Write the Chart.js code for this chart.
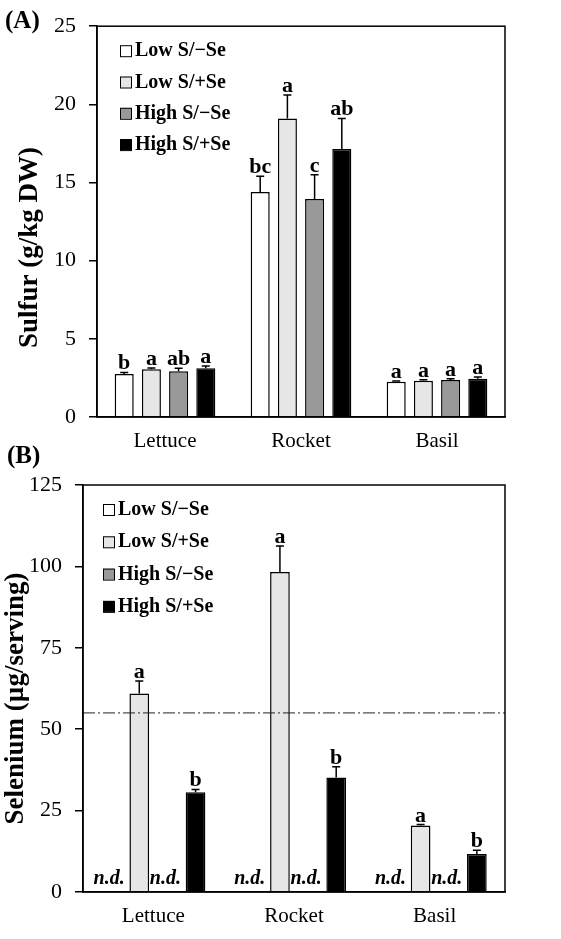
<!DOCTYPE html>
<html>
<head>
<meta charset="utf-8">
<script src="https://cdn.jsdelivr.net/npm/chart.js@4"></script>
<style>
  html, body { margin: 0; padding: 0; background: #fff; }
  body { width: 561px; height: 939px; position: relative; overflow: hidden; }
  .panel { position: absolute; left: 0; width: 561px; }
  #panelA { top: 0; height: 470px; }
  #panelB { top: 440px; height: 499px; }
</style>
</head>
<body>
<div class="panel" id="panelA"><canvas id="chartA"></canvas></div>
<div class="panel" id="panelB"><canvas id="chartB"></canvas></div>
<script>
const FONT = '"Liberation Serif", "Times New Roman", serif';

const categories = ['Lettuce', 'Rocket', 'Basil'];
const seriesNames = ['Low S/\u2212Se', 'Low S/+Se', 'High S/\u2212Se', 'High S/+Se'];
const seriesColors = ['#FFFFFF', '#E6E6E6', '#999999', '#000000'];

// (A) sulfur, g/kg DW
const sulfurLowMinus  = [2.75, 14.4, 2.25];
const sulfurLowPlus   = [3.05, 19.1, 2.32];
const sulfurHighMinus = [2.92, 13.95, 2.37];
const sulfurHighPlus  = [3.12, 17.15, 2.44];
const sulfurErrLowMinus  = [0.10, 1.0, 0.06];
const sulfurErrLowPlus   = [0.08, 1.5, 0.07];
const sulfurErrHighMinus = [0.20, 1.55, 0.07];
const sulfurErrHighPlus  = [0.15, 1.95, 0.12];
const sulfurLetLowMinus  = ['b', 'bc', 'a'];
const sulfurLetLowPlus   = ['a', 'a', 'a'];
const sulfurLetHighMinus = ['ab', 'c', 'a'];
const sulfurLetHighPlus  = ['a', 'ab', 'a'];
const sulfurTicks = [0, 5, 10, 15, 20, 25];

// (B) selenium, ug/serving (null = n.d.)
const seLowMinus  = [null, null, null];
const seLowPlus   = [61.0, 98.3, 20.4];
const seHighMinus = [null, null, null];
const seHighPlus  = [30.6, 35.2, 11.7];
const seErrLowPlus  = [3.8, 8.0, 0.3];
const seErrHighPlus = [0.9, 3.3, 1.1];
const seLetLowPlus  = ['a', 'a', 'a'];
const seLetHighPlus = ['b', 'b', 'b'];
const seTicks = [0, 25, 50, 75, 100, 125];
const seReference = 55;

// draws box, legend, error bars, letters, n.d., titles
const extrasPlugin = {
    id: 'extras',
    afterDatasetsDraw: function (chart, args, opts) {
        const ctx = chart.ctx;
        const area = chart.chartArea;
        const y = chart.scales.y;
        ctx.save();

        // reference line
        if (opts.refValue != null) {
            const ry = y.getPixelForValue(opts.refValue);
            ctx.strokeStyle = '#222';
            ctx.lineWidth = 1;
            ctx.setLineDash([12, 3, 2, 3]);
            ctx.beginPath();
            ctx.moveTo(area.left, ry);
            ctx.lineTo(area.right, ry);
            ctx.stroke();
            ctx.setLineDash([]);
        }

        // error bars + letters + n.d.
        chart.data.datasets.forEach((ds, di) => {
            const meta = chart.getDatasetMeta(di);
            meta.data.forEach((bar, i) => {
                const v = ds.data[i];
                if (v == null) {
                    ctx.fillStyle = '#000';
                    ctx.font = 'italic bold 20px ' + FONT;
                    ctx.textAlign = 'center';
                    ctx.textBaseline = 'alphabetic';
                    ctx.fillText('n.d.', bar.x - 2, y.getPixelForValue(0) - 8);
                    return;
                }
                const err = ds.errors ? ds.errors[i] : 0;
                const top = y.getPixelForValue(v + err);
                ctx.strokeStyle = '#000';
                ctx.lineWidth = 1.5;
                ctx.beginPath();
                ctx.moveTo(bar.x, bar.y);
                ctx.lineTo(bar.x, top);
                ctx.moveTo(bar.x - 4, top);
                ctx.lineTo(bar.x + 4, top);
                ctx.stroke();
                if (ds.letters && ds.letters[i]) {
                    ctx.fillStyle = '#000';
                    ctx.font = 'bold 22px ' + FONT;
                    ctx.textAlign = 'center';
                    ctx.textBaseline = 'alphabetic';
                    ctx.fillText(ds.letters[i], bar.x, top - 3);
                }
            });
        });

        // frame
        ctx.strokeStyle = '#000';
        ctx.lineWidth = 1.5;
        ctx.strokeRect(area.left, area.top, area.right - area.left, area.bottom - area.top);

        // legend
        ctx.font = 'bold 20px ' + FONT;
        ctx.textAlign = 'left';
        ctx.textBaseline = 'middle';
        seriesNames.forEach((name, k) => {
            const cy = area.top + opts.legendTop + k * opts.legendStep;
            const bx = area.left + opts.legendLeft;
            ctx.fillStyle = seriesColors[k];
            ctx.fillRect(bx, cy - 6, 11, 11);
            ctx.strokeStyle = '#000';
            ctx.lineWidth = 1;
            ctx.strokeRect(bx + 0.5, cy - 5.5, 11, 11);
            ctx.fillStyle = '#000';
            ctx.fillText(name, bx + 15, cy);
        });

        // y title
        ctx.save();
        ctx.translate(area.left - 67, (area.top + area.bottom) / 2 + opts.titleShift);
        ctx.rotate(-Math.PI / 2);
        ctx.font = 'bold 27px ' + FONT;
        ctx.textAlign = 'center';
        ctx.textBaseline = 'middle';
        ctx.fillStyle = '#000';
        ctx.fillText(opts.yTitle, 0, 0);
        ctx.restore();

        // panel label
        ctx.font = 'bold 25px ' + FONT;
        ctx.textAlign = 'left';
        ctx.textBaseline = 'middle';
        ctx.fillStyle = '#000';
        ctx.fillText(opts.panel, opts.panelX, opts.panelY);

        ctx.restore();
    }
};

function makeDatasets(values, errors, letters) {
    return values.map((vals, k) => ({
        label: seriesNames[k],
        data: vals,
        errors: errors[k],
        letters: letters[k],
        backgroundColor: seriesColors[k],
        borderColor: '#000',
        borderWidth: 1.5,
        categoryPercentage: 0.8,
        barPercentage: 0.7
    }));
}

function makeChart(id, datasets, ticks, yWidth, xHeight, padTop, extras) {
    const ctx = document.getElementById(id).getContext('2d');
    return new Chart(ctx, {
        type: 'bar',
        data: { labels: categories, datasets: datasets },
        options: {
            responsive: true,
            maintainAspectRatio: false,
            animation: false,
            layout: { padding: { top: padTop, right: 56, left: 0, bottom: 0 } },
            plugins: {
                legend: { display: false },
                tooltip: { enabled: false },
                extras: extras
            },
            scales: {
                x: {
                    grid: { display: false, drawTicks: false },
                    border: { display: true, color: '#000', width: 1.5 },
                    ticks: { color: '#000', font: { family: FONT, size: 21 }, padding: 12 },
                    afterFit: s => { s.height = xHeight; }
                },
                y: {
                    min: ticks[0],
                    max: ticks[ticks.length - 1],
                    afterBuildTicks: s => { s.ticks = ticks.map(v => ({ value: v })); },
                    grid: { drawOnChartArea: false, drawTicks: true, tickLength: 8, color: '#000', lineWidth: 1.5 },
                    border: { display: true, color: '#000', width: 1.5 },
                    ticks: { color: '#000', font: { family: FONT, size: 22 }, padding: 13 },
                    afterFit: s => { s.width = yWidth; }
                }
            }
        },
        plugins: [extrasPlugin]
    });
}

makeChart('chartA',
    makeDatasets(
        [sulfurLowMinus, sulfurLowPlus, sulfurHighMinus, sulfurHighPlus],
        [sulfurErrLowMinus, sulfurErrLowPlus, sulfurErrHighMinus, sulfurErrHighPlus],
        [sulfurLetLowMinus, sulfurLetLowPlus, sulfurLetHighMinus, sulfurLetHighPlus]),
    sulfurTicks, 97, 53, 25,
    { yTitle: 'Sulfur (g/kg DW)', titleShift: 26, panel: '(A)', panelX: 5, panelY: 22,
      legendLeft: 23, legendTop: 25, legendStep: 31.3, refValue: null });

makeChart('chartB',
    makeDatasets(
        [seLowMinus, seLowPlus, seHighMinus, seHighPlus],
        [null, seErrLowPlus, null, seErrHighPlus],
        [null, seLetLowPlus, null, seLetHighPlus]),
    seTicks, 83, 47, 45,
    { yTitle: 'Selenium (\u00b5g/serving)', titleShift: 10, panel: '(B)', panelX: 7, panelY: 17,
      legendLeft: 20, legendTop: 25, legendStep: 32.3, refValue: seReference });
</script>
</body>
</html>
